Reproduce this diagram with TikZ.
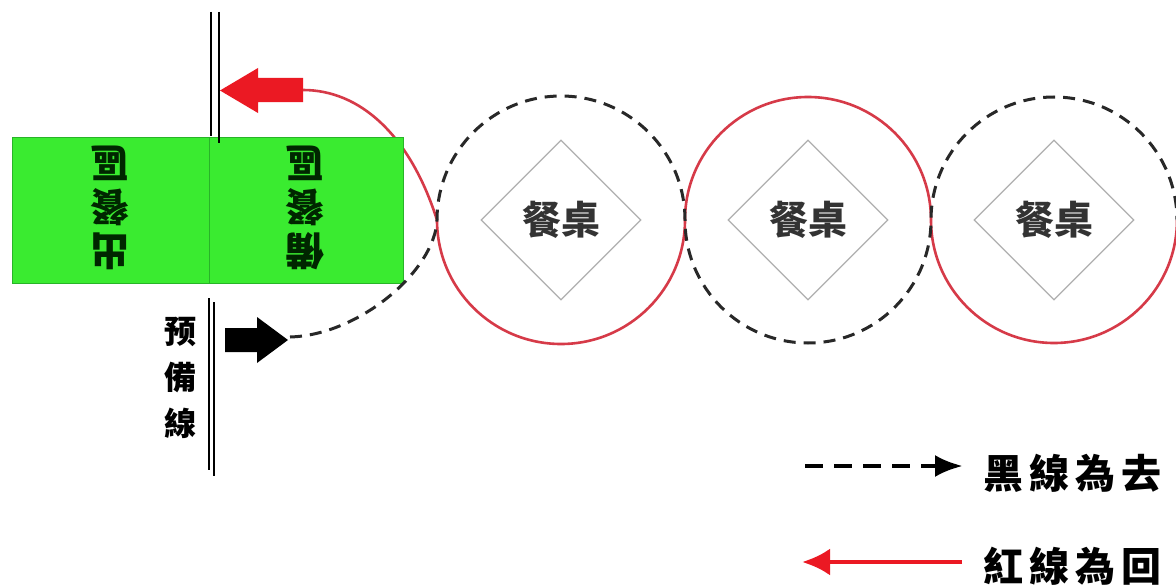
\documentclass[tikz,border=0pt]{standalone}
\usepackage{fontspec}
\setmainfont{Noto Sans CJK TC}
\newfontfamily\legfont[LetterSpace=15]{Noto Sans CJK TC}
\usetikzlibrary{shapes.geometric,arrows.meta}
\definecolor{boxgreen}{RGB}{58,235,48}
\definecolor{boxedge}{RGB}{40,180,40}
\definecolor{arcred}{RGB}{214,58,72}
\definecolor{arrred}{RGB}{235,25,35}
\definecolor{dashgray}{RGB}{40,40,40}
\definecolor{diagray}{RGB}{175,175,175}
\tikzset{
  boxhalf/.style={rectangle, fill=boxgreen, draw=boxedge, line width=0.8pt, inner sep=0pt, outer sep=0pt},
  vtext/.style={rotate=180, align=center, inner sep=0pt, text=black!85!green, font=\fontsize{39}{44}\selectfont\bfseries},
  preptext/.style={align=center, inner sep=0pt, font=\fontsize{32}{46}\selectfont\bfseries},
  tablering/.style={circle, inner sep=0pt, outer sep=0pt},
  tablebox/.style={diamond, draw=diagray, line width=1.3pt, minimum size=160pt, inner sep=0pt, aspect=1, text=black!80, font=\fontsize{39}{39}\selectfont\bfseries},
  backline/.style={draw=arcred, line width=2.6pt},
  goline/.style={draw=dashgray, line width=3pt, dash pattern=on 12pt off 8pt},
  dline/.style={black, line width=1.6pt},
  legtext/.style={anchor=west, inner sep=0pt, font=\legfont\fontsize{40}{40}\selectfont\bfseries},
}
\begin{document}
\begin{tikzpicture}[x=1pt,y=-1pt]
\fill[white] (0,0) rectangle (1176,586);
\useasboundingbox (0,0) rectangle (1176,586);

% rings (invisible nodes, arcs drawn below)
\node[tablering, minimum size=248pt] (c1) at (561,220) {};
\node[tablering, minimum size=246pt] (c2) at (808,220) {};
\node[tablering, minimum size=246pt] (c3) at (1054,220) {};

% tables
\node[tablebox] (d1) at (c1) {餐桌};
\node[tablebox] (d2) at (c2) {餐桌};
\node[tablebox] (d3) at (c3) {餐桌};

% red block arrow
\coordinate (rtail) at (303,90);
\fill[arrred] (303,78) -- (258,78) -- (258,68) -- (220,90.5) -- (258,113) -- (258,102) -- (303,102) -- cycle;

% return path (red)
\draw[backline] (rtail) .. controls (360,90) and (410,135) .. (c1.west)
  arc[start angle=180, end angle=0, radius=124]
  arc[start angle=180, end angle=360, radius=123]
  arc[start angle=180, end angle=0, radius=123];

% green box
\node[boxhalf, minimum width=197pt, minimum height=146pt] (bl) at (110.5,210) {};
\node[boxhalf, minimum width=194pt, minimum height=146pt] (br) at (306,210) {};
\node[vtext] (t1) at (110,208) {出\\餐\\區};
\node[vtext] (t2) at (305,208) {備\\餐\\區};

% double lines
\coordinate (ua1) at (211,12);  \coordinate (ub1) at (211,136);
\coordinate (ua2) at (219,12);  \coordinate (ub2) at (219,143);
\coordinate (la1) at (209,298); \coordinate (lb1) at (209,470);
\coordinate (la2) at (214,302); \coordinate (lb2) at (214,476);
\draw[dline] (ua1) -- (ub1);
\draw[dline] (ua2) -- (ub2);
\draw[dline] (la1) -- (lb1);
\draw[dline] (la2) -- (lb2);

\node[preptext] (prep) at (180,378) {预\\備\\線};

% black block arrow
\coordinate (btip) at (290,337);
\fill[black] (225,328) -- (257,328) -- (257,317) -- (288,340) -- (257,363) -- (257,352) -- (225,352) -- cycle;

% outgoing path (dashed)
\draw[goline] (btip) .. controls (360,335) and (435,270) .. (c1.west)
  arc[start angle=180, end angle=360, radius=124]
  arc[start angle=180, end angle=0, radius=123]
  arc[start angle=180, end angle=360, radius=123];

% legend
\coordinate (l1a) at (805,466); \coordinate (l1b) at (963,466);
\coordinate (l2a) at (962,562); \coordinate (l2b) at (802,562);
\draw[draw=black, line width=4.5pt, dash pattern=on 18pt off 11pt, -{Latex[length=28pt,width=22pt]}] (l1a) -- (l1b);
\draw[draw=arrred, line width=4.5pt, -{Latex[length=28pt,width=27pt]}] (l2a) -- (l2b);
\node[legtext] (lg1) at (983,473) {黑線為去};
\node[legtext] (lg2) at (983,566) {紅線為回};
\end{tikzpicture}
\end{document}
